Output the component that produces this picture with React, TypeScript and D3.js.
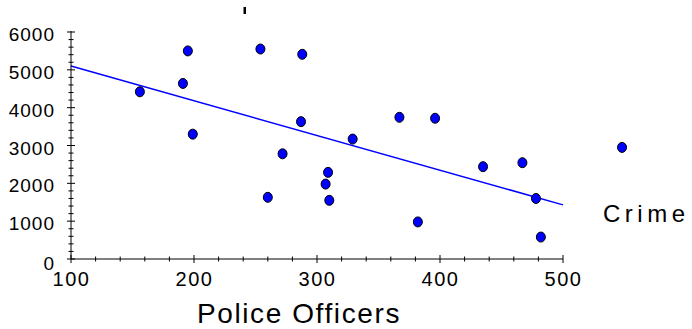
import { useEffect, useRef } from 'react';
import * as d3 from 'd3';

// Police officers vs. crime, one entry per city
const officers = [156, 195, 191, 199, 254, 288, 287, 272, 367, 396, 329, 548, 435, 467, 478, 382, 482, 260, 307, 309, 310];
const crime = [4420, 5500, 4640, 3300, 5550, 5410, 3630, 2780, 3745, 3720, 3170, 2950, 2440, 2545, 1600, 980, 580, 1630, 1980, 2290, 1550];

// fitted line, end points
const fitX = [100, 500];
const fitY = [5100, 1430];

const xTicks = [100, 200, 300, 400, 500];
const yTicks = [0, 1000, 2000, 3000, 4000, 5000, 6000];

function App() {
  const svgRef = useRef<SVGSVGElement>(null);

  useEffect(() => {
    if (!svgRef.current) return;
    const svg = d3.select(svgRef.current);
    svg.selectAll("*").remove();

    const font = "'Liberation Sans', Arial, sans-serif";

    const x = d3.scaleLinear().domain([100, 500]).range([71, 563]);
    const y = d3.scaleLinear().domain([0, 6000]).range([259, 32]);

    const g = svg.append("g");

    // regression line
    const line = d3.line<number>()
      .x((_, i) => x(fitX[i]))
      .y((_, i) => y(fitY[i]));
    g.append("path")
      .datum(fitX)
      .attr("fill", "none")
      .attr("stroke", "#0000ff")
      .attr("stroke-width", 1.5)
      .attr("d", line);

    // axes
    g.append("line")
      .attr("x1", x(100)).attr("x2", x(500))
      .attr("y1", y(0)).attr("y2", y(0))
      .attr("stroke", "#000");
    g.append("line")
      .attr("x1", x(100)).attr("x2", x(100))
      .attr("y1", y(0)).attr("y2", y(6000) - 1)
      .attr("stroke", "#000");

    // x ticks
    const xMinor = d3.range(100, 501, 20);
    g.selectAll(".xt")
      .data(xMinor)
      .enter().append("line")
      .attr("x1", d => x(d)).attr("x2", d => x(d))
      .attr("y1", d => y(0) - (d % 100 === 0 ? 4 : 2.5))
      .attr("y2", d => y(0) + (d % 100 === 0 ? 4 : 2.5))
      .attr("stroke", "#000");

    g.selectAll(".xl")
      .data(xTicks)
      .enter().append("text")
      .attr("x", d => x(d) + 0.5)
      .attr("y", y(0) + 27)
      .attr("text-anchor", "middle")
      .style("font-family", font)
      .style("font-size", "20px")
      .style("letter-spacing", "1.5px")
      .text(d => d);

    // y ticks
    const yMinor = d3.range(0, 6001, 200);
    g.selectAll(".yt")
      .data(yMinor)
      .enter().append("line")
      .attr("y1", d => y(d)).attr("y2", d => y(d))
      .attr("x1", d => x(100) - (d % 1000 === 0 ? 4 : 2.5))
      .attr("x2", d => x(100) + (d % 1000 === 0 ? 4 : 2.5))
      .attr("stroke", "#000");

    g.selectAll(".yl")
      .data(yTicks)
      .enter().append("text")
      .attr("x", 55)
      .attr("y", d => y(d) + (d === 0 ? 11 : 9))
      .attr("text-anchor", "end")
      .style("font-family", font)
      .style("font-size", "19px")
      .style("letter-spacing", "1px")
      .text(d => d);

    // points
    g.selectAll(".dot")
      .data(officers)
      .enter().append("ellipse")
      .attr("cx", d => x(d))
      .attr("cy", (_, i) => y(crime[i]))
      .attr("rx", 4.5)
      .attr("ry", 5)
      .attr("fill", "#0000ff")
      .attr("stroke", "#000")
      .attr("stroke-width", 1);

    // axis titles
    g.append("text")
      .attr("x", 299)
      .attr("y", 323)
      .attr("text-anchor", "middle")
      .style("font-family", font)
      .style("font-size", "28px")
      .style("letter-spacing", "1.6px")
      .text("Police Officers");

    g.append("text")
      .attr("x", 603)
      .attr("y", 222)
      .style("font-family", font)
      .style("font-size", "24px")
      .style("letter-spacing", "4.5px")
      .text("Crime");

    // stray mark at the top
    g.append("rect")
      .attr("x", 243.5).attr("y", 7)
      .attr("width", 2.5).attr("height", 7)
      .attr("fill", "#000");
  }, []);

  return (
    <svg
      ref={svgRef}
      width={692}
      height={329}
      style={{ position: 'absolute', left: 0, top: 0, background: '#fff' }}
    />
  );
}

export default App;
